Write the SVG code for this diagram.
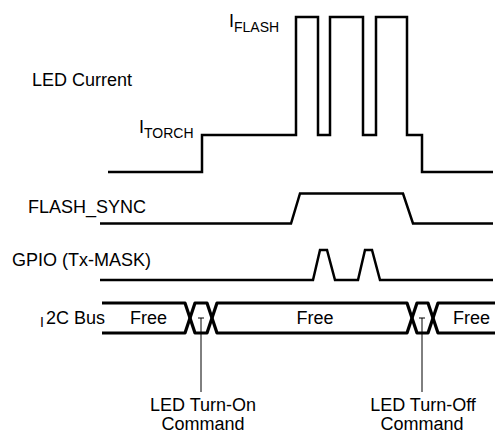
<svg xmlns="http://www.w3.org/2000/svg" width="495" height="435" viewBox="0 0 495 435">
<style>
text{font-family:"Liberation Sans",Arial,sans-serif;fill:#000;font-size:18px}
.sub{font-size:14px}
.c{text-anchor:middle}
.w{fill:none;stroke:#000;stroke-width:2.5;stroke-linejoin:miter}
.bus{fill:none;stroke:#000;stroke-width:3.2;stroke-linejoin:round}
.tk{fill:none;stroke:#000;stroke-width:1}
</style>
<rect width="495" height="435" fill="#fff"/>
<g id="labels">
<text x="32" y="86">LED Current</text>
<text x="28" y="213">FLASH_SYNC</text>
<text x="12" y="266">GPIO (Tx-MASK)</text>
<text x="40" y="327" class="sub">I</text>
<text x="46" y="324">2C Bus</text>
<text x="229" y="27">I</text>
<text x="234" y="32" class="sub">FLASH</text>
<text x="139" y="133">I</text>
<text x="144" y="138" class="sub">TORCH</text>
</g>
<g id="led-current">
<path class="w" d="M108,172 H202 V135 H296 V17 H318 V135 H330 V17 H363 V135 H376 V17 H407 V135 H422 V172 H493"/>
</g>
<g id="flash-sync">
<path class="w" d="M100,223.5 H291 L300,193.5 H403 L413,223.5 H493"/>
</g>
<g id="gpio">
<path class="w" d="M100,280 H313 L320,250 H327 L335,280 H358 L365,250 H372 L380,280 H493"/>
</g>
<g id="i2c-bus">
<path class="bus" d="M102,303 H185 L190,318 L185,333 H102"/>
<path class="bus" d="M190,318 L195,303 H207 L212,318 L207,333 H195 Z"/>
<path class="bus" d="M212,318 L217,303 H407 L412,318 L407,333 H217 Z"/>
<path class="bus" d="M412,318 L417,303 H428 L433,318 L428,333 H417 Z"/>
<path class="bus" d="M496,303 H438 L433,318 L438,333 H496"/>
<text x="148.5" y="324" class="c">Free</text>
<text x="315" y="324" class="c">Free</text>
<text x="471.5" y="324" class="c">Free</text>
</g>
<g id="connectors">
<path class="tk" d="M198,318 H204 M201,318 V392"/>
<path class="tk" d="M419,318 H425 M422,318 V392"/>
</g>
<g id="turn-on">
<text x="203" y="411" class="c">LED Turn-On</text>
<text x="203" y="430" class="c">Command</text>
</g>
<g id="turn-off">
<text x="423" y="411" class="c">LED Turn-Off</text>
<text x="422" y="430" class="c">Command</text>
</g>
</svg>
